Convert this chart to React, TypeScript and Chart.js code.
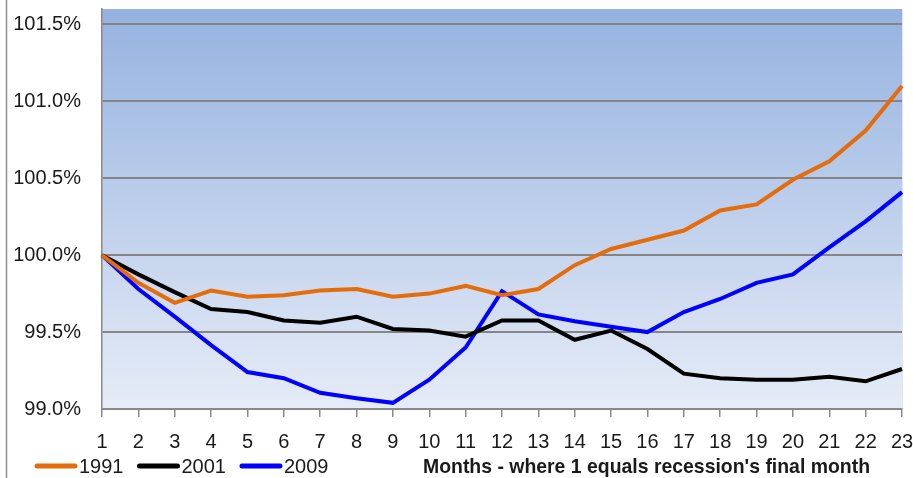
import React, { useEffect, useRef } from "react";
import { Chart, registerables } from "chart.js";

Chart.register(...registerables);

const months = ["1","2","3","4","5","6","7","8","9","10","11","12","13","14","15","16","17","18","19","20","21","22","23"];
const series1991 = [100.0, 99.82, 99.69, 99.77, 99.73, 99.74, 99.77, 99.78, 99.73, 99.75, 99.80, 99.74, 99.78, 99.935, 100.04, 100.10, 100.16, 100.29, 100.33, 100.49, 100.61, 100.81, 101.10];
const series2001 = [100.0, 99.875, 99.76, 99.65, 99.63, 99.575, 99.56, 99.60, 99.52, 99.51, 99.47, 99.575, 99.575, 99.45, 99.51, 99.39, 99.23, 99.20, 99.19, 99.19, 99.21, 99.18, 99.26];
const series2009 = [100.0, 99.78, 99.60, 99.415, 99.24, 99.20, 99.105, 99.07, 99.04, 99.19, 99.40, 99.766, 99.615, 99.57, 99.535, 99.50, 99.63, 99.715, 99.82, 99.875, 100.05, 100.22, 100.41];
const seriesNames = ["1991", "2001", "2009"];
const yTicks = [99.0, 99.5, 100.0, 100.5, 101.0, 101.5];
const axisTitle = "Months - where 1 equals recession's final month";

const FONT = "'Liberation Sans', Arial, sans-serif";

const decorPlugin = {
  id: "decor",
  beforeDraw(chart: any) {
    const { ctx, chartArea } = chart;
    const { left, top, right, bottom } = chartArea;
    ctx.save();
    const g = ctx.createLinearGradient(0, top, 0, bottom);
    g.addColorStop(0, "#95b2e0");
    g.addColorStop(1, "#e6ecf7");
    ctx.fillStyle = g;
    ctx.fillRect(left, top, right - left, bottom - top);
    ctx.strokeStyle = "#dde6f4";
    ctx.lineWidth = 1;
    ctx.beginPath();
    ctx.moveTo(right + 0.5, top);
    ctx.lineTo(right + 0.5, bottom);
    ctx.stroke();
    // left frame line
    ctx.strokeStyle = "#8c8c8c";
    ctx.lineWidth = 1.5;
    ctx.beginPath();
    ctx.moveTo(6.5, 0);
    ctx.lineTo(6.5, chart.height);
    ctx.stroke();
    ctx.restore();
  },
  afterDraw(chart: any) {
    const { ctx } = chart;
    ctx.save();
    const y = 466;
    let x = 35;
    ctx.font = `20px ${FONT}`;
    ctx.textBaseline = "middle";
    chart.data.datasets.forEach((ds: any) => {
      ctx.strokeStyle = ds.borderColor;
      ctx.lineWidth = 5;
      ctx.lineCap = "round";
      ctx.beginPath();
      ctx.moveTo(x + 2, y);
      ctx.lineTo(x + 40, y);
      ctx.stroke();
      ctx.fillStyle = "#1a1a1a";
      ctx.textAlign = "left";
      ctx.fillText(ds.label, x + 44, y + 1);
      x += 44 + ctx.measureText(ds.label).width + 14;
    });
    ctx.font = `bold 21px ${FONT}`;
    ctx.fillStyle = "#1a1a1a";
    ctx.fillText(axisTitle, 423, y + 1, 447);
    ctx.restore();
  },
};

export default function App() {
  const ref = useRef<HTMLCanvasElement | null>(null);
  useEffect(() => {
    if (!ref.current) return;
    const colors = ["#e46c0a", "#000000", "#0000ff"];
    const data = [series1991, series2001, series2009];
    const chart = new Chart(ref.current, {
      type: "line",
      data: {
        labels: months,
        datasets: seriesNames.map((name, i) => ({
          label: name,
          data: data[i],
          borderColor: colors[i],
          backgroundColor: colors[i],
          borderWidth: 4,
          pointRadius: 0,
          tension: 0,
          fill: false,
        })),
      },
      options: {
        animation: false,
        responsive: false,
        devicePixelRatio: 1,
        layout: { padding: { left: 0, right: 11, top: 9, bottom: 0 } },
        plugins: { legend: { display: false }, tooltip: { enabled: false } },
        scales: {
          x: {
            type: "category",
            offset: false,
            grid: {
              drawOnChartArea: false,
              drawTicks: true,
              tickLength: 8,
              color: "#8a8a8a",
              lineWidth: 1.5,
            },
            border: { color: "#8a8a8a", width: 1.5 },
            ticks: {
              color: "#1a1a1a",
              font: { family: FONT, size: 20 },
              padding: 13,
              maxRotation: 0,
              autoSkip: false,
            },
            afterFit(scale: any) {
              scale.height = 69;
              scale.paddingLeft = 0;
              scale.paddingRight = 0;
            },
          },
          y: {
            min: 99.0,
            max: 101.6,
            afterBuildTicks(scale: any) {
              scale.ticks = yTicks.map((v) => ({ value: v }));
            },
            grid: {
              drawTicks: false,
              color: "#858585",
              lineWidth: 2,
            },
            border: { color: "#8a8a8a", width: 1.5 },
            ticks: {
              color: "#1a1a1a",
              font: { family: FONT, size: 20 },
              padding: 21,
              callback: (v: any) => Number(v).toFixed(1) + "%",
            },
            afterFit(scale: any) {
              scale.width = 102;
              scale.paddingTop = 0;
              scale.paddingBottom = 0;
            },
          },
        },
      },
      plugins: [decorPlugin],
    });
    return () => chart.destroy();
  }, []);
  return (
    <div style={{ position: "absolute", left: 0, top: 0, width: 913, height: 478, background: "#fff" }}>
      <canvas ref={ref} width={913} height={478} style={{ display: "block" }} />
    </div>
  );
}
